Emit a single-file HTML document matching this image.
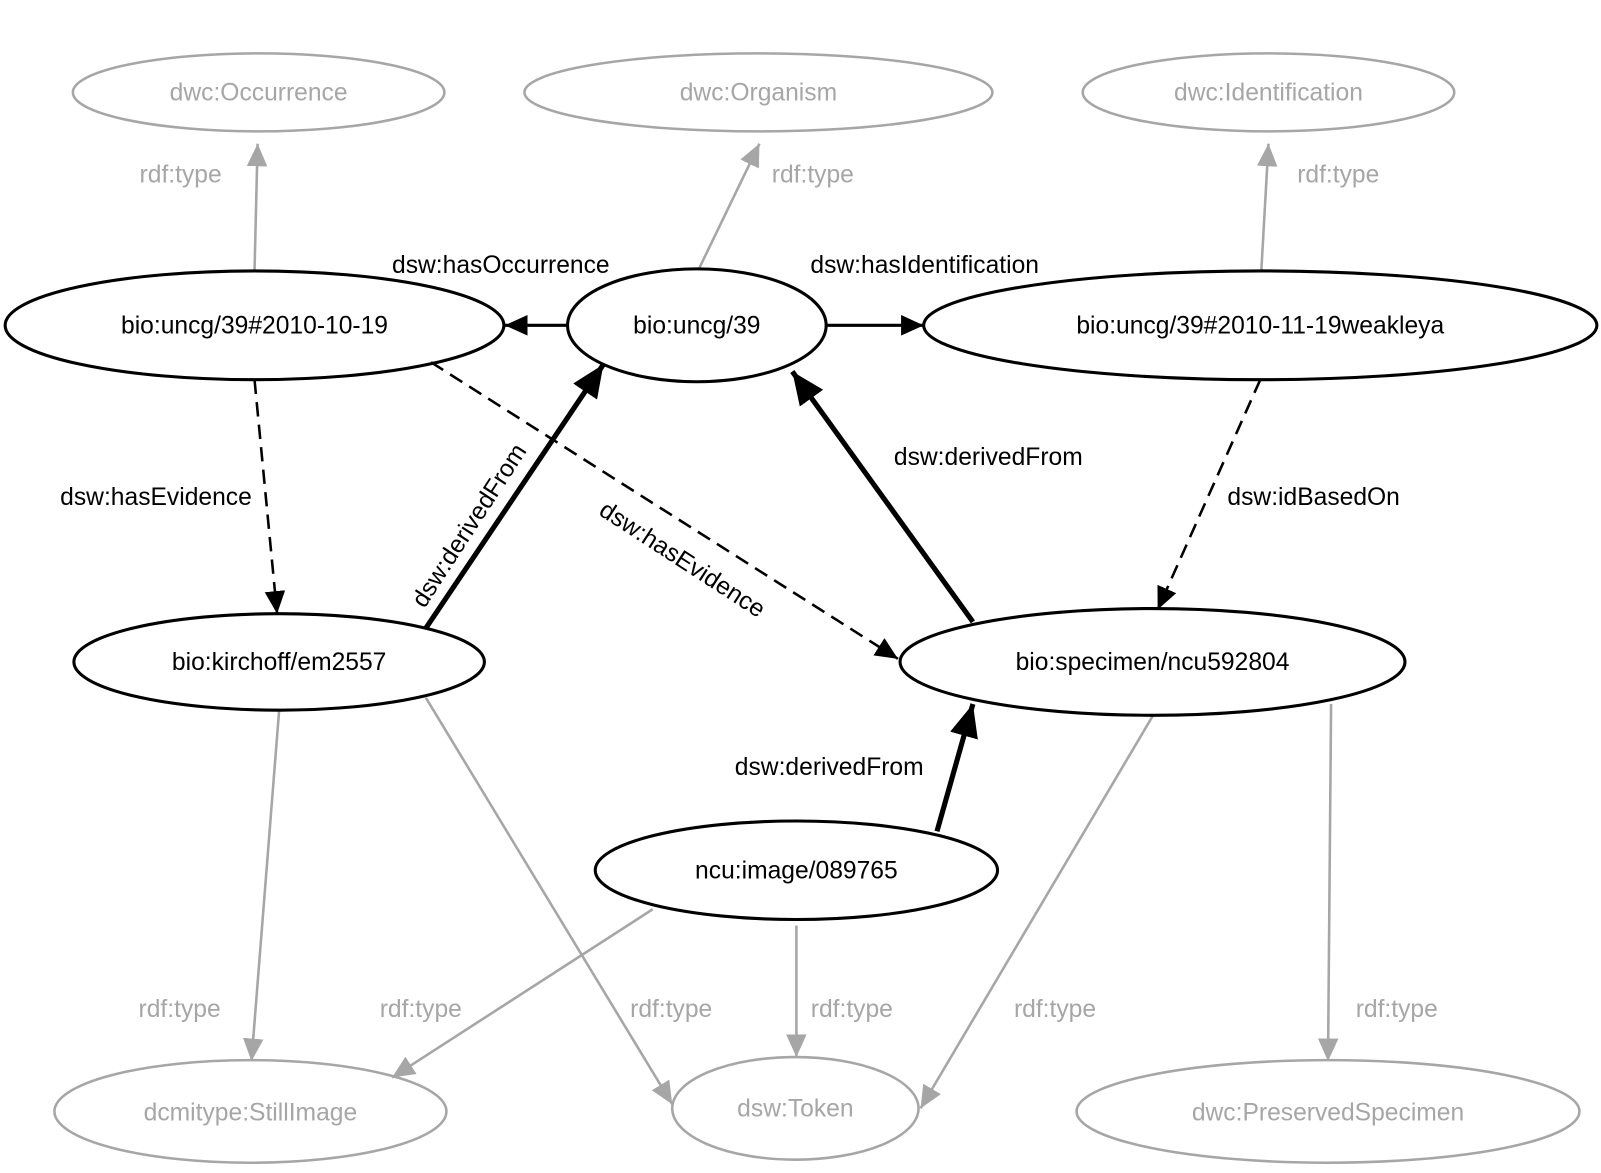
<!DOCTYPE html>
<html><head><meta charset="utf-8"><style>html,body{margin:0;padding:0;background:#fff}svg{display:block}</style></head>
<body>
<svg width="1601" height="1173" viewBox="0 0 1560 1143" preserveAspectRatio="none" xmlns="http://www.w3.org/2000/svg" font-family="Liberation Sans, sans-serif" font-size="24">
<defs>
<marker id="ab" markerUnits="userSpaceOnUse" markerWidth="24" markerHeight="20" refX="22" refY="10" orient="auto"><path d="M0,0 L22,10 L0,20 z" fill="#000"/></marker>
<marker id="abt" markerUnits="userSpaceOnUse" markerWidth="34" markerHeight="28" refX="32" refY="14" orient="auto"><path d="M0,0 L32,14 L0,28 z" fill="#000"/></marker>
<marker id="ag" markerUnits="userSpaceOnUse" markerWidth="24" markerHeight="20" refX="22" refY="10" orient="auto"><path d="M0,0 L22,10 L0,20 z" fill="#a6a6a6"/></marker>
</defs>
<g fill="none" stroke="#a6a6a6" stroke-width="2.5">
<ellipse cx="252" cy="90" rx="181" ry="38"/>
<ellipse cx="739" cy="90" rx="228" ry="38"/>
<ellipse cx="1236" cy="90" rx="181" ry="38"/>
<ellipse cx="244" cy="1083" rx="191" ry="50"/>
<ellipse cx="775" cy="1080" rx="120" ry="50"/>
<ellipse cx="1294" cy="1083" rx="245" ry="50"/>
<line x1="248" y1="264" x2="251" y2="140" marker-end="url(#ag)"/>
<line x1="681" y1="262" x2="740" y2="140" marker-end="url(#ag)"/>
<line x1="1229" y1="264" x2="1236" y2="140" marker-end="url(#ag)"/>
<line x1="272" y1="692" x2="245" y2="1034" marker-end="url(#ag)"/>
<line x1="415" y1="680" x2="655" y2="1076" marker-end="url(#ag)"/>
<line x1="636" y1="886" x2="382" y2="1050" marker-end="url(#ag)"/>
<line x1="776" y1="902" x2="776" y2="1030" marker-end="url(#ag)"/>
<line x1="1123" y1="698" x2="897" y2="1080" marker-end="url(#ag)"/>
<line x1="1297" y1="686" x2="1294" y2="1034" marker-end="url(#ag)"/>
</g>
<g fill="none" stroke="#000" stroke-width="3">
<ellipse cx="248" cy="317" rx="243" ry="53"/>
<ellipse cx="679" cy="317" rx="126" ry="55"/>
<ellipse cx="1228" cy="317" rx="328" ry="53"/>
<ellipse cx="272" cy="645" rx="200" ry="47"/>
<ellipse cx="1123" cy="645" rx="246" ry="52"/>
<ellipse cx="776" cy="848" rx="196" ry="48"/>
<line x1="552" y1="317" x2="492" y2="317" marker-end="url(#ab)"/>
<line x1="806" y1="317" x2="900" y2="317" marker-end="url(#ab)"/>
<line x1="248" y1="370" x2="270" y2="598" stroke-width="2.5" stroke-dasharray="14,8" marker-end="url(#ab)"/>
<line x1="420" y1="353" x2="875" y2="642" stroke-width="2.5" stroke-dasharray="14,8" marker-end="url(#ab)"/>
<line x1="1228" y1="370" x2="1128" y2="594" stroke-width="2.5" stroke-dasharray="14,8" marker-end="url(#ab)"/>
<line x1="415" y1="612" x2="588" y2="355" stroke-width="5" marker-end="url(#abt)"/>
<line x1="948" y1="606" x2="772" y2="362" stroke-width="5" marker-end="url(#abt)"/>
<line x1="913" y1="810" x2="948" y2="686" stroke-width="5" marker-end="url(#abt)"/>
</g>
<g fill="#a6a6a6" text-anchor="middle">
<text x="252" y="98">dwc:Occurrence</text>
<text x="739" y="98">dwc:Organism</text>
<text x="1236" y="98">dwc:Identification</text>
<text x="244" y="1092">dcmitype:StillImage</text>
<text x="775" y="1088">dsw:Token</text>
<text x="1294" y="1092">dwc:PreservedSpecimen</text>
<text x="176" y="178">rdf:type</text>
<text x="792" y="178">rdf:type</text>
<text x="1304" y="178">rdf:type</text>
<text x="175" y="991">rdf:type</text>
<text x="410" y="991">rdf:type</text>
<text x="654" y="991">rdf:type</text>
<text x="830" y="991">rdf:type</text>
<text x="1028" y="991">rdf:type</text>
<text x="1361" y="991">rdf:type</text>
</g>
<g fill="#000" text-anchor="middle">
<text x="248" y="325">bio:uncg/39#2010-10-19</text>
<text x="679" y="325">bio:uncg/39</text>
<text x="1228" y="325">bio:uncg/39#2010-11-19weakleya</text>
<text x="272" y="653">bio:kirchoff/em2557</text>
<text x="1123" y="653">bio:specimen/ncu592804</text>
<text x="776" y="856">ncu:image/089765</text>
<text x="488" y="266">dsw:hasOccurrence</text>
<text x="901" y="266">dsw:hasIdentification</text>
<text x="152" y="492">dsw:hasEvidence</text>
<text x="1280" y="492">dsw:idBasedOn</text>
<text x="963" y="453">dsw:derivedFrom</text>
<text x="808" y="755">dsw:derivedFrom</text>
<text transform="translate(665,545) rotate(33)" y="8">dsw:hasEvidence</text>
<text transform="translate(457,512) rotate(-57)" y="8">dsw:derivedFrom</text>
</g>
</svg>
</body></html>
